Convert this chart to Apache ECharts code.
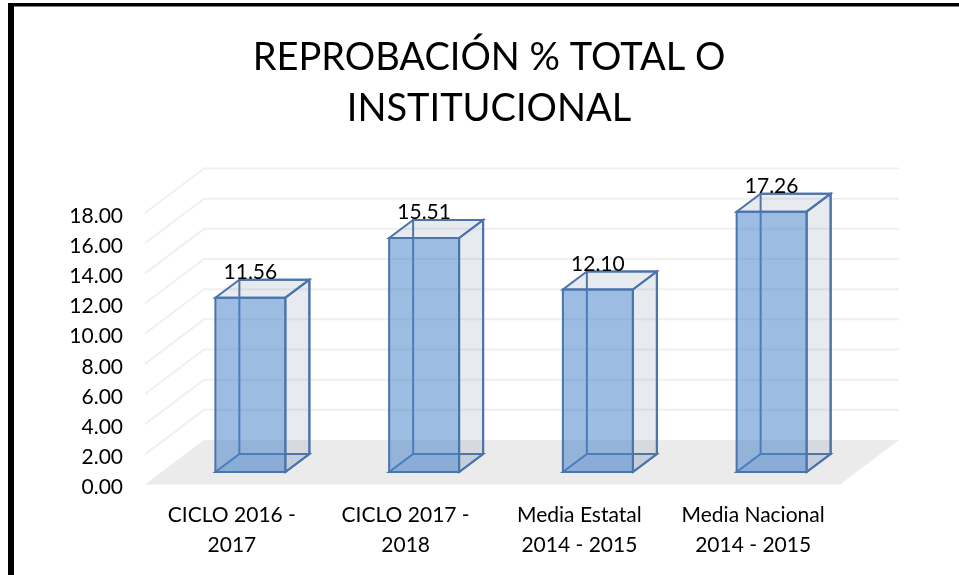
<!DOCTYPE html>
<html>
<head>
<meta charset="utf-8">
<title>Reprobación</title>
<script src="https://cdn.jsdelivr.net/npm/echarts@6/dist/echarts.min.js"></script>
<style>
    html, body { margin: 0; padding: 0; background: #fff; }
    #main { width: 959px; height: 575px; }
</style>
</head>
<body>
<div id="main"></div>
<script>
    const categories = ['CICLO 2016 -\n2017', 'CICLO 2017 -\n2018', 'Media Estatal\n2014 - 2015', 'Media Nacional\n2014 - 2015']
    const values = [11.56, 15.51, 12.10, 17.26]
    const yTicks = [0, 2, 4, 6, 8, 10, 12, 14, 16, 18]

    const fontName = 'Lato'
    // profundidad del "3D" en pixeles
    const wallDx = 59, wallDy = -44.5
    const barDx = 18.5, barDy = -12.5
    const depthDx = 24, depthDy = -18
    const barWidth = 70

    const edge = { stroke: '#4a74ab', lineWidth: 2 }
    const sideFill = 'rgba(115,130,160,0.17)'
    const frontFill = 'rgba(75,133,202,0.55)'

    function face(points, fill, stroke) {
        return {
            type: 'polygon',
            shape: { points: points },
            style: Object.assign({ fill: fill }, stroke || { stroke: 'none' })
        }
    }

    // suelo y lineas de la pared
    function renderWall(params, api) {
        const grid = params.coordSys
        const y = api.coord([0, api.value(0)])[1]
        const x0 = grid.x, x1 = grid.x + grid.width
        if (api.value(0) === 0) {
            return face([[x0, y], [x1, y], [x1 + wallDx, y + wallDy], [x0 + wallDx, y + wallDy]], '#ebebeb')
        }
        return {
            type: 'polyline',
            shape: { points: [[x0, y], [x0 + wallDx, y + wallDy], [x1 + wallDx, y + wallDy]] },
            style: { fill: 'none', stroke: '#f0f0f0', lineWidth: 2 }
        }
    }

    function renderBar(params, api) {
        const top = api.coord([api.value(0), api.value(1)])
        const base = api.coord([api.value(0), 0])
        const l = top[0] - barWidth / 2 + barDx
        const r = l + barWidth
        const t = top[1] + barDy
        const b = base[1] + barDy
        const dx = depthDx, dy = depthDy
        return {
            type: 'group',
            children: [
                // caras de atras
                face([[l + dx, t + dy], [r + dx, t + dy], [r + dx, b + dy], [l + dx, b + dy]], 'none', edge),
                face([[l, b], [r, b], [r + dx, b + dy], [l + dx, b + dy]], 'rgba(75,133,202,0.12)', edge),
                // caras de adelante
                face([[r, t], [r + dx, t + dy], [r + dx, b + dy], [r, b]], sideFill, edge),
                face([[l, t], [r, t], [r + dx, t + dy], [l + dx, t + dy]], sideFill, edge),
                face([[l, t], [r, t], [r, b], [l, b]], frontFill, edge),
                {
                    type: 'text',
                    style: {
                        x: l + barWidth / 2,
                        y: t - 25.5,
                        text: api.value(1).toFixed(2),
                        align: 'center',
                        verticalAlign: 'middle',
                        fill: '#000',
                        font: '21px ' + fontName
                    }
                }
            ]
        }
    }

    const myChart = echarts.init(document.getElementById('main'), null, { renderer: 'canvas' })
    myChart.setOption({
        animation: false,
        textStyle: { fontFamily: fontName },
        title: {
            text: 'REPROBACIÓN % TOTAL O\nINSTITUCIONAL',
            left: 484,
            top: 27,
            textAlign: 'center',
            textStyle: { fontFamily: fontName, fontSize: 38, fontWeight: 'normal', color: '#000', lineHeight: 51 }
        },
        grid: { left: 145, right: 119, top: 213, bottom: 90.5 },
        xAxis: {
            type: 'category',
            data: categories,
            axisLine: { show: false },
            axisTick: { show: false },
            axisLabel: { color: '#000', fontSize: 21, lineHeight: 30, margin: 16, interval: 0 }
        },
        yAxis: {
            type: 'value',
            min: 0,
            max: 18,
            interval: 2,
            axisLine: { show: false },
            axisTick: { show: false },
            splitLine: { show: false },
            axisLabel: {
                color: '#000',
                fontSize: 21,
                margin: 22,
                verticalAlign: 'top',
                lineHeight: 6,
                formatter: function (value) { return value.toFixed(2) }
            }
        },
        series: [
            {
                type: 'custom',
                name: 'pared',
                coordinateSystem: 'cartesian2d',
                renderItem: renderWall,
                data: yTicks.map(v => [v]),
                encode: { y: 0 },
                silent: true,
                z: 1
            },
            {
                type: 'custom',
                name: 'Reprobación',
                coordinateSystem: 'cartesian2d',
                renderItem: renderBar,
                data: values.map((v, i) => [i, v]),
                encode: { x: 0, y: 1 },
                z: 2
            }
        ],
        graphic: [
            { type: 'rect', shape: { x: 8, y: 3, width: 951, height: 3.5 }, style: { fill: '#000' } },
            { type: 'rect', shape: { x: 8, y: 3, width: 6, height: 572 }, style: { fill: '#000' } }
        ]
    })
</script>
</body>
</html>
